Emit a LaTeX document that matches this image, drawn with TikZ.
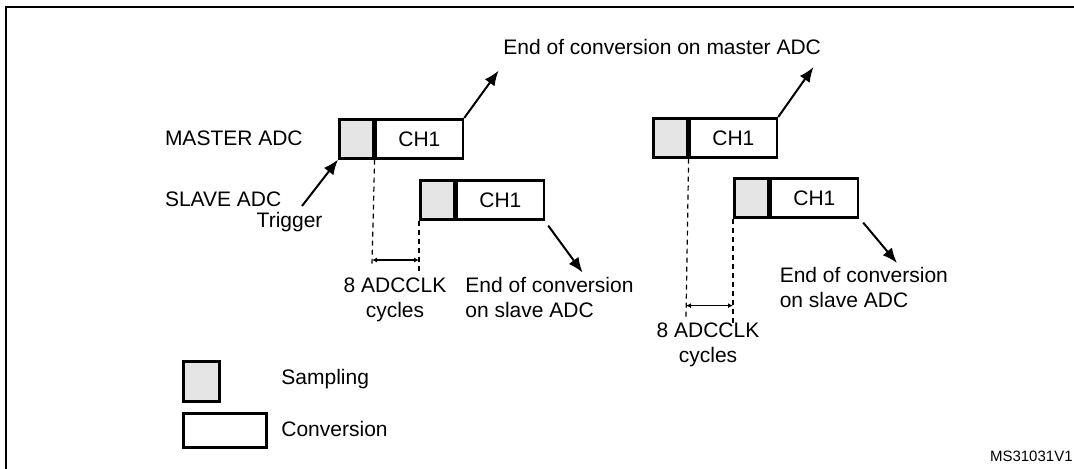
\documentclass[tikz,border=0pt]{standalone}
\usepackage{fontspec}
\setmainfont{Liberation Sans}
\usetikzlibrary{positioning,arrows.meta}
\begin{document}
\begin{tikzpicture}[x=0.5pt,y=-0.5pt]
		\tikzset{every node/.style = {font=\fontsize{10.5}{12.5}\selectfont, inner sep=0pt}}
		\tikzset{samp/.style = {draw, line width=1.3pt, fill=gray!20, minimum width=17pt, minimum height=19.5pt}}
		\tikzset{conv/.style = {draw, line width=1.3pt, fill=white, minimum width=43.5pt, minimum height=19.5pt}}
		\tikzset{edge/.style = {-{Latex[length=7.5pt,width=6pt]}, line width=1pt}}
		\tikzset{dashline/.style = {line width=0.6pt, dash pattern=on 2.5pt off 2pt}}
		\tikzset{cyclearrow/.style = {{Latex[length=2.5pt,width=2.5pt]}-{Latex[length=2.5pt,width=2.5pt]}, line width=0.6pt}}
		\useasboundingbox (0,0) rectangle (1074,468);
		\draw[line width=1pt] (5.5,480) -- (5.5,7) -- (1090,7);
		% first pair
		\node[samp, anchor=north west] (ms1) at (338,118) {};
		\node[conv, right=0pt of ms1] (mc1) {CH1};
		\node[samp, anchor=north west] (ss1) at (419,179) {};
		\node[conv, right=0pt of ss1] (sc1) {CH1};
		% second pair
		\node[samp, anchor=north west] (ms2) at (652,117) {};
		\node[conv, right=0pt of ms2] (mc2) {CH1};
		\node[samp, anchor=north west] (ss2) at (733,177) {};
		\node[conv, right=0pt of ss2] (sc2) {CH1};
		% labels
		\node[anchor=base west] (mlab) at (164.6,145.3) {MASTER ADC};
		\node[anchor=base west] (slab) at (164.6,206) {SLAVE ADC};
		\node[anchor=base] (trig) at (289.6,227) {Trigger};
		\node[anchor=base west] (eom) at (503,54) {End of conversion on master ADC};
		\node[anchor=base west, align=left] (eos1) at (465,317) {End of conversion\\on slave ADC};
		\node[anchor=base west, align=left] (eos2) at (779.4,307.7) {End of conversion\\on slave ADC};
		\node[anchor=base, align=center] (cyc1) at (395,317) {8 ADCCLK\\cycles};
		\node[anchor=base, align=center] (cyc2) at (708,362.8) {8 ADCCLK\\cycles};
		% arrows
		\coordinate (t0) at (302,206);
		\draw[edge] (t0) -- (ms1.south west);
		\coordinate (e1) at (498.6,70.6);
		\coordinate (e2) at (813.5,67);
		\draw[edge] (mc1.north east) -- (e1);
		\draw[edge] (mc2.north east) -- (e2);
		\coordinate (f1) at (582.6,272.6);
		\coordinate (f2) at (897,263);
		\draw[edge] ([shift={(3,5)}]sc1.south east) -- (f1);
		\draw[edge] ([shift={(4,4)}]sc2.south east) -- (f2);
		% delay marks
		\coordinate (g1a) at (372,264);
		\coordinate (g1b) at (419,271);
		\draw[dashline] (ms1.south east) -- (g1a);
		\draw[dashline] (ss1.south west) -- (g1b);
		\coordinate (w1a) at (372,260);
		\coordinate (w1b) at (419,260);
		\draw[cyclearrow] (w1a) -- (w1b);
		\coordinate (g2a) at (686,317);
		\coordinate (g2b) at (733,326);
		\draw[dashline] (ms2.south east) -- (g2a);
		\draw[dashline] (ss2.south west) -- (g2b);
		\coordinate (w2a) at (686,305.6);
		\coordinate (w2b) at (733,305.6);
		\draw[cyclearrow] (w2a) -- (w2b);
		% legend
		\node[samp, minimum width=18pt, minimum height=20pt, anchor=north west] (lsamp) at (182,360) {};
		\node[conv, minimum width=41.5pt, minimum height=17pt, anchor=north west] (lconv) at (182,412) {};
		\node[anchor=base west] (tsamp) at (281,384) {Sampling};
		\node[anchor=base west] (tconv) at (281,436) {Conversion};
		\node[anchor=base east, font=\fontsize{7.5}{9}\selectfont] (ref) at (1073,461.7) {MS31031V1};
	\end{tikzpicture}
\end{document}
